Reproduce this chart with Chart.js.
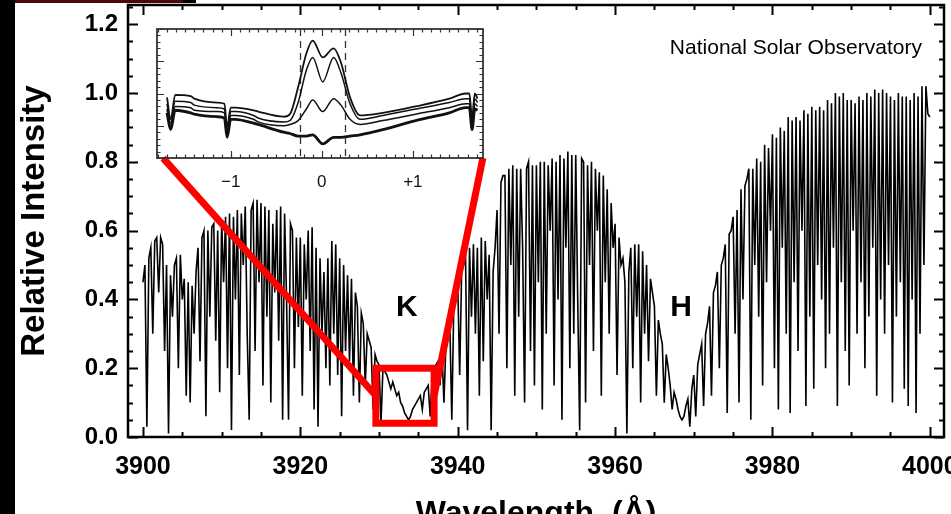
<!DOCTYPE html>
<html>
<head>
<meta charset="utf-8">
<script src="https://cdn.jsdelivr.net/npm/chart.js@4.4.1/dist/chart.umd.min.js"></script>
<style>
  html, body { margin: 0; padding: 0; background: #fff; width: 951px; height: 514px; overflow: hidden; }
  #mainWrap { position: absolute; left: 0; top: 0; width: 951px; height: 540px; }
  #insetWrap { position: absolute; z-index: 3; }
  #leftBar { position: absolute; left: 0; top: 0; width: 15px; height: 514px; background: #000; z-index: 5; }
  #topBar { position: absolute; left: 15px; top: 0; width: 168px; height: 3px; background: #4a0808; z-index: 5; }
  #topBar2 { position: absolute; left: 183px; top: 0; width: 13px; height: 3px; background: #000; z-index: 5; }
</style>
</head>
<body>
<div id="mainWrap"><canvas id="spectrumChart" width="951" height="540"></canvas></div>
<div id="insetWrap"><canvas id="insetChart"></canvas></div>
<div id="leftBar"></div><div id="topBar"></div><div id="topBar2"></div>
<script>
// Solar spectrum around Ca II H & K, sampled every 0.25 A from 3900 A
const wlStart = 3900;
const wlStep = 0.25;
const intensity = [
  0.45,0.50,0.03,0.52, 0.55,0.30,0.57,0.58,
  0.42,0.58,0.56,0.25, 0.50,0.01,0.47,0.35,
  0.50,0.52,0.20,0.53, 0.40,0.46,0.12,0.45,
  0.10,0.44,0.30,0.48, 0.55,0.22,0.58,0.60,
  0.06,0.60,0.35,0.61, 0.62,0.28,0.60,0.13,
  0.63,0.45,0.64,0.20, 0.65,0.02,0.64,0.40,
  0.66,0.18,0.65,0.50, 0.67,0.30,0.05,0.66,
  0.68,0.25,0.69,0.45, 0.68,0.15,0.67,0.35,
  0.66,0.10,0.62,0.42, 0.66,0.28,0.67,0.05,
  0.65,0.40,0.05,0.62, 0.60,0.20,0.58,0.32,
  0.58,0.12,0.56,0.40, 0.60,0.25,0.61,0.08,
  0.55,0.03,0.52,0.30, 0.48,0.20,0.52,0.15,
  0.57,0.30,0.56,0.18, 0.52,0.06,0.50,0.25,
  0.47,0.22,0.46,0.12, 0.42,0.38,0.10,0.36,
  0.33,0.15,0.30,0.28, 0.26,0.08,0.24,0.22,
  0.21,0.04,0.20,0.19, 0.18,0.16,0.14,0.16,
  0.14,0.12,0.13,0.10, 0.09,0.07,0.06,0.05,
  0.06,0.08,0.09,0.10, 0.11,0.12,0.08,0.13,
  0.14,0.15,0.06,0.17, 0.20,0.21,0.22,0.15,
  0.25,0.10,0.27,0.30, 0.33,0.05,0.38,0.40,
  0.45,0.18,0.48,0.50, 0.52,0.02,0.55,0.35,
  0.56,0.30,0.55,0.12, 0.58,0.22,0.57,0.40,
  0.53,0.02,0.48,0.55, 0.66,0.30,0.74,0.76,
  0.76,0.20,0.78,0.50, 0.79,0.12,0.78,0.35,
  0.78,0.55,0.10,0.78, 0.80,0.25,0.79,0.15,
  0.79,0.45,0.80,0.08, 0.80,0.30,0.79,0.60,
  0.81,0.15,0.80,0.40, 0.82,0.05,0.81,0.55,
  0.83,0.20,0.82,0.30, 0.82,0.40,0.02,0.81,
  0.80,0.10,0.79,0.50, 0.80,0.25,0.78,0.60,
  0.77,0.12,0.76,0.45, 0.72,0.30,0.68,0.55,
  0.62,0.18,0.58,0.50, 0.52,0.45,0.01,0.48,
  0.55,0.20,0.56,0.35, 0.56,0.10,0.54,0.30,
  0.50,0.22,0.46,0.42, 0.38,0.12,0.34,0.30,
  0.27,0.10,0.24,0.20, 0.15,0.08,0.13,0.11,
  0.08,0.06,0.05,0.06, 0.09,0.11,0.03,0.14,
  0.18,0.06,0.21,0.24, 0.27,0.09,0.30,0.33,
  0.38,0.12,0.42,0.44, 0.48,0.20,0.50,0.52,
  0.56,0.07,0.59,0.60, 0.64,0.30,0.66,0.10,
  0.72,0.40,0.73,0.75, 0.78,0.05,0.78,0.50,
  0.81,0.35,0.80,0.15, 0.85,0.45,0.84,0.60,
  0.88,0.20,0.87,0.08, 0.90,0.55,0.89,0.30,
  0.93,0.07,0.92,0.45, 0.93,0.25,0.92,0.60,
  0.95,0.09,0.94,0.35, 0.96,0.14,0.95,0.50,
  0.96,0.40,0.95,0.20, 0.98,0.30,0.97,0.55,
  1.00,0.09,0.99,0.45, 1.00,0.25,0.98,0.15,
  0.98,0.60,0.97,0.30, 0.99,0.45,0.98,0.20,
  1.00,0.35,0.99,0.55, 1.01,0.12,1.00,0.40,
  1.01,0.30,1.00,0.50, 0.99,0.10,0.98,0.35,
  1.00,0.45,0.99,0.14, 0.99,0.09,0.98,0.40,
  1.00,0.07,0.99,0.30, 1.02,0.50,1.02,0.94,
  0.93
];
const xTickValues = [3900, 3920, 3940, 3960, 3980, 4000];
const yTickValues = [0, 0.2, 0.4, 0.6, 0.8, 1.0, 1.2];
const yTickLabels = ['0.0', '0.2', '0.4', '0.6', '0.8', '1.0', '1.2'];
const lineNames = ['K', 'H'];
const lineCenters = [3933.55, 3968.4];

// inset: K line core, offset from line centre (A), four profiles
const insetOffset = [-1.70,-1.66,-1.61,-1.44,-1.40,-1.15,-1.07,-1.04,-1.00,-0.95,-0.75,-0.70,-0.42,-0.35,-0.26,-0.17,-0.10,0.01,0.13,0.21,0.31,0.42,0.67,1.03,1.40,1.58,1.62,1.65,1.68,1.71];
const profile1 = [0.47,0.30,0.49,0.48,0.46,0.43,0.42,0.24,0.39,0.39,0.37,0.36,0.32,0.34,0.55,0.81,0.91,0.78,0.85,0.74,0.47,0.33,0.35,0.40,0.46,0.50,0.50,0.31,0.50,0.46];
const profile2 = [0.42,0.27,0.44,0.43,0.41,0.39,0.38,0.20,0.36,0.36,0.33,0.31,0.28,0.29,0.43,0.68,0.78,0.59,0.78,0.66,0.42,0.30,0.33,0.38,0.43,0.46,0.46,0.28,0.46,0.43];
const profile3 = [0.38,0.24,0.40,0.39,0.37,0.36,0.35,0.18,0.33,0.33,0.30,0.28,0.25,0.26,0.29,0.38,0.45,0.36,0.46,0.41,0.30,0.26,0.29,0.34,0.39,0.42,0.42,0.25,0.42,0.40];
const profile4 = [0.35,0.22,0.37,0.35,0.34,0.32,0.31,0.16,0.30,0.30,0.27,0.26,0.20,0.19,0.17,0.17,0.18,0.11,0.16,0.16,0.17,0.18,0.22,0.29,0.35,0.39,0.39,0.22,0.38,0.37];
const insetTickValues = [-1, 0, 1];
const insetTickLabels = ['\u22121', '0', '+1'];
const insetMarkers = [-0.24, 0.26];

// zoom box (main data units) and where the inset sits
const zoomBox = { x0: 3929.6, x1: 3937.0, y0: 0.04, y1: 0.20 };
const insetPlace = { x0: 3901.8, x1: 3943.2, y0: 0.811, y1: 1.186 };

const boldFont = '"Liberation Sans", Arial, Helvetica, sans-serif';

function drawTicks(ctx, area, sx, sy, xs, ys) {
    // xs / ys: [values, length]
    ctx.beginPath();
    xs.forEach(([vals, len]) => vals.forEach(v => {
        const px = Math.round(sx.getPixelForValue(v)) + 0.5;
        ctx.moveTo(px, area.bottom); ctx.lineTo(px, area.bottom - len);
        ctx.moveTo(px, area.top); ctx.lineTo(px, area.top + len);
    }));
    ys.forEach(([vals, len]) => vals.forEach(v => {
        const py = Math.round(sy.getPixelForValue(v)) + 0.5;
        ctx.moveTo(area.left, py); ctx.lineTo(area.left + len, py);
        ctx.moveTo(area.right, py); ctx.lineTo(area.right - len, py);
    }));
    ctx.stroke();
}

function stepsBetween(min, max, step) {
    const out = [];
    for (let v = Math.ceil(min / step - 1e-9) * step; v <= max + 1e-9; v += step) out.push(+v.toFixed(4));
    return out;
}

// keep tick labels from pushing the plot frame inwards
function noLabelPadding(s) {
    s.paddingLeft = 0; s.paddingRight = 0; s.paddingTop = 0; s.paddingBottom = 0;
}

const mainDecor = {
    id: 'mainDecor',
    afterDatasetsDraw(chart) {
        const { ctx, scales: { x, y } } = chart;
        ctx.save();
        ctx.strokeStyle = '#ff0000';
        ctx.lineWidth = 7;
        const bx0 = x.getPixelForValue(zoomBox.x0), bx1 = x.getPixelForValue(zoomBox.x1);
        const by0 = y.getPixelForValue(zoomBox.y0), by1 = y.getPixelForValue(zoomBox.y1);
        const ix0 = x.getPixelForValue(insetPlace.x0), ix1 = x.getPixelForValue(insetPlace.x1);
        const iy0 = y.getPixelForValue(insetPlace.y0);
        const midY = (by0 + by1) / 2;
        ctx.beginPath();
        ctx.moveTo(ix0 + 6, iy0); ctx.lineTo(bx0, midY);
        ctx.moveTo(ix1, iy0); ctx.lineTo(bx1, midY);
        ctx.stroke();
        ctx.strokeRect(bx0, by1, bx1 - bx0, by0 - by1);
        ctx.restore();
    },
    afterDraw(chart) {
        const { ctx, chartArea: a, scales: { x, y } } = chart;
        ctx.save();
        ctx.strokeStyle = '#000';
        ctx.lineWidth = 2.5;
        ctx.strokeRect(a.left, a.top, a.right - a.left, a.bottom - a.top);
        ctx.lineWidth = 2;
        drawTicks(ctx, a, x, y,
            [[stepsBetween(x.min, x.max, 5), 5], [xTickValues, 10]],
            [[stepsBetween(y.min, y.max, 0.05), 5], [yTickValues, 10]]);

        ctx.fillStyle = '#000';
        ctx.font = 'bold 30px ' + boldFont;
        ctx.textAlign = 'center';
        ctx.textBaseline = 'middle';
        lineNames.forEach((name, i) => {
            ctx.fillText(name, x.getPixelForValue(lineCenters[i]), y.getPixelForValue(0.375));
        });

        ctx.font = '21px ' + boldFont;
        ctx.textAlign = 'right';
        ctx.textBaseline = 'alphabetic';
        ctx.fillText('National Solar Observatory', x.getPixelForValue(3999.0), y.getPixelForValue(1.113));
        ctx.restore();
    }
};

const spectrumChart = new Chart(document.getElementById('spectrumChart'), {
    type: 'line',
    data: {
        datasets: [{
            data: intensity.map((v, i) => ({ x: wlStart + i * wlStep, y: v })),
            borderColor: '#000',
            borderWidth: 1.6,
            pointRadius: 0,
            tension: 0,
            fill: false
        }]
    },
    options: {
        responsive: false,
        animation: false,
        events: [],
        layout: { autoPadding: false, padding: { left: 0, right: 7, top: 5, bottom: 0 } },
        plugins: { legend: { display: false }, tooltip: { enabled: false } },
        scales: {
            x: {
                type: 'linear',
                min: 3898.1,
                max: 4001.8,
                afterBuildTicks: s => { s.ticks = xTickValues.map(v => ({ value: v })); },
                afterFit: s => { s.height = 103; noLabelPadding(s); },
                grid: { display: false, drawTicks: false },
                border: { display: false },
                ticks: {
                    autoSkip: false, maxRotation: 0, padding: 15, color: '#000',
                    font: { family: boldFont, size: 25, weight: 'bold' },
                    callback: v => String(v)
                },
                title: {
                    display: true, text: 'Wavelength  (\u00C5)', color: '#000',
                    font: { family: boldFont, size: 32, weight: 'bold' },
                    padding: { top: 0, bottom: 7 }
                }
            },
            y: {
                min: 0,
                max: 1.256,
                afterBuildTicks: s => { s.ticks = yTickValues.map(v => ({ value: v })); },
                afterFit: s => { s.width = 128; noLabelPadding(s); },
                grid: { display: false, drawTicks: false },
                border: { display: false },
                ticks: {
                    padding: 10, color: '#000',
                    font: { family: boldFont, size: 24, weight: 'bold' },
                    callback: (v, i) => yTickLabels[i]
                },
                title: {
                    display: true, text: 'Relative Intensity', color: '#000',
                    font: { family: boldFont, size: 33, weight: 'bold' },
                    padding: { top: 15, bottom: 0 }
                }
            }
        }
    },
    plugins: [mainDecor]
});

// ---- inset chart, placed through the main chart's scales ----
const insetPad = { l: 8, r: 8, t: 4, b: 34 };
const sx = spectrumChart.scales.x, sy = spectrumChart.scales.y;
const insetLeft = sx.getPixelForValue(insetPlace.x0);
const insetRight = sx.getPixelForValue(insetPlace.x1);
const insetTop = sy.getPixelForValue(insetPlace.y1);
const insetBottom = sy.getPixelForValue(insetPlace.y0);
const insetWrap = document.getElementById('insetWrap');
const insetCanvas = document.getElementById('insetChart');
insetWrap.style.left = Math.round(insetLeft - insetPad.l) + 'px';
insetWrap.style.top = Math.round(insetTop - insetPad.t) + 'px';
insetCanvas.width = Math.round(insetRight - insetLeft) + insetPad.l + insetPad.r;
insetCanvas.height = Math.round(insetBottom - insetTop) + insetPad.t + insetPad.b;

const insetDecor = {
    id: 'insetDecor',
    beforeDatasetsDraw(chart) {
        const { ctx, chartArea: a, scales: { x } } = chart;
        ctx.save();
        ctx.strokeStyle = '#333';
        ctx.lineWidth = 1.3;
        ctx.setLineDash([7, 5]);
        ctx.beginPath();
        insetMarkers.forEach(v => {
            const px = Math.round(x.getPixelForValue(v)) + 0.5;
            ctx.moveTo(px, a.top); ctx.lineTo(px, a.bottom);
        });
        ctx.stroke();
        ctx.restore();
    },
    afterDraw(chart) {
        const { ctx, chartArea: a, scales: { x, y } } = chart;
        ctx.save();
        ctx.strokeStyle = '#333';
        ctx.lineWidth = 1.8;
        ctx.strokeRect(a.left, a.top, a.right - a.left, a.bottom - a.top);
        ctx.lineWidth = 1.2;
        drawTicks(ctx, a, x, y,
            [[stepsBetween(x.min, x.max, 0.1), 3.5], [insetTickValues, 7]],
            [[stepsBetween(y.min, y.max, 0.05), 3.5], [stepsBetween(y.min, y.max, 0.25), 7]]);
        ctx.restore();
    }
};

const profileStyle = (data, width) => ({
    data: insetOffset.map((v, i) => ({ x: v, y: data[i] })),
    borderColor: '#111',
    borderWidth: width,
    pointRadius: 0,
    cubicInterpolationMode: 'monotone',
    fill: false
});

new Chart(insetCanvas, {
    type: 'line',
    data: {
        datasets: [
            profileStyle(profile1, 1.8),
            profileStyle(profile2, 1.5),
            profileStyle(profile3, 1.5),
            profileStyle(profile4, 2.8)
        ]
    },
    options: {
        responsive: false,
        animation: false,
        events: [],
        layout: { autoPadding: false, padding: { left: insetPad.l, right: insetPad.r, top: insetPad.t, bottom: 0 } },
        plugins: { legend: { display: false }, tooltip: { enabled: false } },
        scales: {
            x: {
                type: 'linear',
                min: -1.81,
                max: 1.77,
                afterBuildTicks: s => { s.ticks = insetTickValues.map(v => ({ value: v })); },
                afterFit: s => { s.height = insetPad.b; noLabelPadding(s); },
                grid: { display: false, drawTicks: false },
                border: { display: false },
                ticks: {
                    autoSkip: false, maxRotation: 0, padding: 14, color: '#111',
                    font: { family: boldFont, size: 17 },
                    callback: (v, i) => insetTickLabels[i]
                }
            },
            y: { display: false, min: 0, max: 1 }
        }
    },
    plugins: [insetDecor]
});
</script>
</body>
</html>
